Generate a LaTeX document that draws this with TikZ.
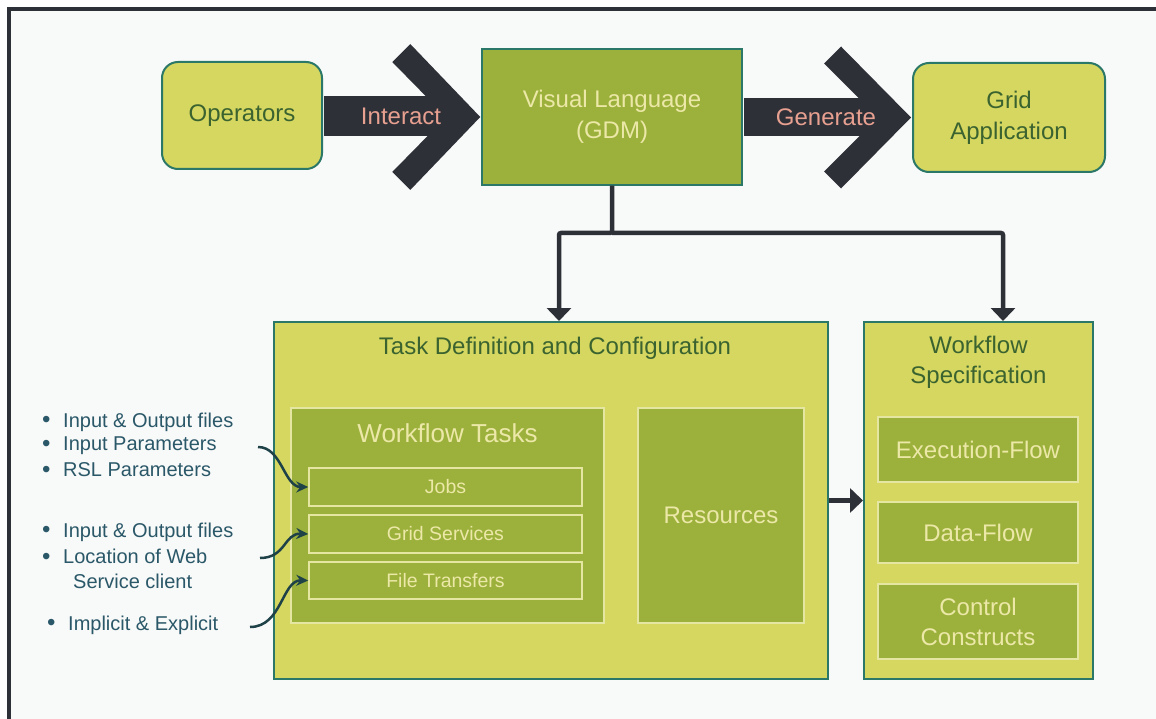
\documentclass[tikz,border=0pt]{standalone}
\usepackage{fontspec}
\setmainfont{Liberation Sans}
\usetikzlibrary{arrows.meta,calc}
\definecolor{cFrame}{HTML}{2E3038}
\definecolor{cBg}{HTML}{F8F9F9}
\definecolor{cYlw}{HTML}{D5D760}
\definecolor{cOlv}{HTML}{9CB13B}
\definecolor{cTeal}{HTML}{2B7868}
\definecolor{cPale}{HTML}{E4E6A2}
\definecolor{cDark}{HTML}{3B6330}
\definecolor{cLight}{HTML}{ECE8A8}
\definecolor{cSalmon}{HTML}{E8A090}
\definecolor{cBul}{HTML}{2A5868}
\definecolor{cCurve}{HTML}{1E4248}
\newcommand\mybul{\makebox[21pt][l]{\raisebox{-0.5pt}{\fontsize{24}{24}\selectfont •}}}
\tikzset{
  ybox/.style={draw=cTeal, line width=2pt, fill=cYlw, text=cDark, align=center, inner sep=0pt,
    font=\fontsize{24}{31}\selectfont},
  vbox/.style={draw=cTeal, line width=1.5pt, fill=cOlv, text=cLight, align=center, inner sep=0pt,
    font=\fontsize{24}{31}\selectfont},
  obox/.style={draw=cPale, line width=1.5pt, fill=cOlv, text=cLight, align=center, inner sep=0pt,
    font=\fontsize{24}{30}\selectfont},
  sbox/.style={obox, font=\fontsize{19.5}{24}\selectfont},
  ttl/.style={text=cDark, align=center, inner sep=0pt, font=\fontsize{24}{30}\selectfont},
  arrlbl/.style={text=cSalmon, inner sep=0pt, font=\fontsize{24}{30}\selectfont},
  bul/.style={text=cBul, anchor=west, inner sep=0pt, font=\fontsize{20}{24}\selectfont},
  conn/.style={draw=cFrame, line width=4.5pt, rounded corners=2pt,
    -{Triangle[length=13pt,width=24pt]}},
  curv/.style={draw=cCurve, line width=2.5pt, -{Stealth[length=12pt,width=11pt]}},
}
\begin{document}
\begin{tikzpicture}[x=1pt,y=-1pt]
\useasboundingbox (0,0) rectangle (1156,719);
\fill[white] (0,0) rectangle (1156,719);
\fill[cBg] (9,9) rectangle (1156,719);
\draw[cFrame, line width=4pt, line join=miter] (9,719) -- (9,9) -- (1156,9);

% top row
\node[ybox, rounded corners=16pt, minimum width=160pt, minimum height=107pt] (ops) at (242,115.5) {Operators};
\node[vbox, minimum width=260pt, minimum height=136pt] (vl) at (612,117) {Visual Language\\(GDM)};
\node[ybox, rounded corners=16pt, minimum width=192pt, minimum height=109pt] (grid) at (1009,117.5) {Grid\\Application};

% block arrows
\fill[cFrame] ($(ops.east)+(1,-19)$) rectangle ($(vl.west)+(-25,19)$);
\fill[cFrame] ($(vl.west)+(-71,-73)$) -- ($(vl.west)+(-1,0)$) -- ($(vl.west)+(-71,73)$)
  -- ($(vl.west)+(-89,55)$) -- ($(vl.west)+(-35,0)$) -- ($(vl.west)+(-89,-55)$) -- cycle;
\fill[cFrame] ($(vl.east)+(1,-19)$) rectangle ($(grid.west)+(-25,19)$);
\fill[cFrame] ($(grid.west)+(-71,-71)$) -- ($(grid.west)+(-1,0)$) -- ($(grid.west)+(-71,71)$)
  -- ($(grid.west)+(-88,54)$) -- ($(grid.west)+(-34,0)$) -- ($(grid.west)+(-88,-54)$) -- cycle;
\node[arrlbl] (ilbl) at (401,116) {Interact};
\node[arrlbl] (glbl) at (826,117) {Generate};

% lower boxes
\node[ybox, minimum width=554pt, minimum height=357pt] (task) at (551,500.5) {};
\node[ttl] (tasktitle) at (555,348) {Task Definition and Configuration};
\node[ybox, minimum width=229pt, minimum height=357pt] (spec) at (978.5,500.5) {};
\node[ttl] (spectitle) at (978.5,362) {Workflow\\Specification};

\node[obox, minimum width=313pt, minimum height=215pt] (wft) at (447.5,515.5) {};
\node[obox, draw=none, fill=none, font=\fontsize{26}{30}\selectfont] (wfttitle) at (447.5,433) {Workflow Tasks};
\node[sbox, minimum width=273pt, minimum height=38pt] (jobs) at (445.5,487) {Jobs};
\node[sbox, minimum width=273pt, minimum height=38pt] (gs) at (445.5,534) {Grid Services};
\node[sbox, minimum width=273pt, minimum height=37pt] (ft) at (445.5,580.5) {File Transfers};
\node[obox, minimum width=166pt, minimum height=215pt] (res) at (721,515.5) {Resources};

\node[obox, minimum width=200pt, minimum height=65pt] (exe) at (978,449.5) {Execution-Flow};
\node[obox, minimum width=200pt, minimum height=61pt] (df) at (978,532.5) {Data-Flow};
\node[obox, minimum width=200pt, minimum height=75pt] (cc) at (978,621.5) {Control\\Constructs};

% connectors
\coordinate (jn) at (612,233);
\draw[conn] (vl.south) -- (jn) -| ([xshift=8pt]task.north);
\draw[conn] (jn) -| ([xshift=24.5pt]spec.north);
\draw[conn] (task.east) -- (spec.west);

% bullet texts
\node[bul] (b1) at (42,422) {\mybul Input \& Output files};
\node[bul] (b2) at (42,446) {\mybul Input Parameters};
\node[bul] (b3) at (42,470) {\mybul RSL Parameters};
\node[bul] (b4) at (42,532) {\mybul Input \& Output files};
\node[bul] (b5) at (42,557) {\mybul Location of Web};
\node[bul] (b6) at (73,581) {Service client};
\node[bul] (b7) at (47,625) {\mybul Implicit \& Explicit};

% curved arrows
\coordinate (s1) at (258,447);
\coordinate (s2) at (260,558);
\coordinate (s3) at (250,627);
\draw[curv] (s1) .. controls (282,447) and (284,487) .. (jobs.west);
\draw[curv] (s2) .. controls (286,558) and (284,533) .. (gs.west);
\draw[curv] (s3) .. controls (282,627) and (282,580) .. (ft.west);
\end{tikzpicture}
\end{document}
